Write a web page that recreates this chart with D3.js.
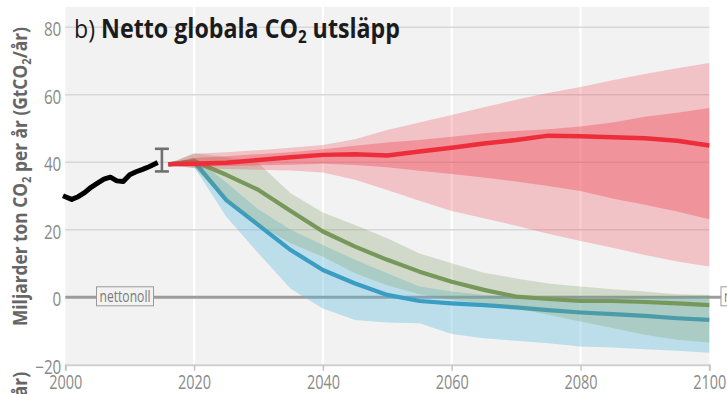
<!DOCTYPE html>
<html>
<head>
<meta charset="utf-8">
<script src="https://cdn.jsdelivr.net/npm/d3@7"></script>
<style>
  html, body { margin: 0; padding: 0; background: #ffffff; overflow: hidden; }
  svg { display: block; }
  text { font-family: "Open Sans", "DejaVu Sans", sans-serif; }
</style>
</head>
<body>
<svg id="chart" width="727" height="394"></svg>
<script>
// Historical net CO2 emissions (GtCO2/yr)
const histYears  = [2000, 2001, 2002, 2003, 2004, 2005, 2006, 2007, 2008, 2009, 2010, 2011, 2012, 2013, 2014];
const histValues = [29.8, 29.0, 29.8, 31.0, 32.6, 33.8, 35.0, 35.6, 34.5, 34.3, 36.3, 37.2, 37.9, 38.7, 39.6];

// Uncertainty of the latest historical estimate
const errorYear = 2015;
const errorLow  = 37.3;
const errorHigh = 44.0;

// Scenario pathways
const scenYears = [2016, 2020, 2025, 2030, 2035, 2040, 2045, 2050, 2055, 2060, 2065, 2070, 2075, 2080, 2085, 2090, 2095, 2100];

// High-emission pathway (red): median, inner range and outer range
const redMedian    = [39.4, 39.6, 39.9, 40.7, 41.5, 42.2, 42.4, 42.0, 43.2, 44.3, 45.6, 46.6, 47.9, 47.7, 47.4, 47.1, 46.4, 45.0];
const redInnerLow  = [39.3, 38.8, 38.9, 39.1, 39.3, 39.6, 39.2, 38.5, 37.5, 36.5, 35.5, 34.3, 33.0, 31.5, 29.3, 27.4, 25.4, 23.1];
const redInnerHigh = [39.5, 41.3, 41.8, 42.4, 43.0, 43.9, 44.9, 45.9, 46.6, 47.6, 48.6, 49.3, 49.8, 50.6, 51.8, 53.5, 54.7, 56.1];
const redOuterLow  = [39.2, 38.3, 38.0, 37.8, 37.6, 37.0, 34.8, 31.8, 28.6, 25.6, 23.4, 21.2, 18.8, 16.7, 14.7, 12.5, 10.6, 9.1];
const redOuterHigh = [39.6, 42.5, 43.0, 43.6, 44.3, 45.1, 46.8, 49.6, 51.8, 54.0, 56.3, 58.5, 60.5, 62.3, 64.3, 66.2, 67.9, 69.4];

// Pathway limiting warming to below 2 °C (green)
const greenMedian = [39.4, 40.3, 36.3, 31.8, 25.6, 19.5, 15.0, 11.1, 7.6, 4.6, 2.2, 0.2, -0.5, -1.1, -1.1, -1.4, -1.8, -2.3];
const greenLow    = [39.2, 38.3, 29.0, 21.5, 16.0, 12.0, 7.1, 3.6, 0.9, -0.8, -1.8, -3.3, -5.2, -7.2, -9.1, -11.1, -12.6, -13.4];
const greenHigh   = [39.6, 42.7, 41.5, 39.7, 30.8, 25.1, 21.4, 17.5, 13.0, 10.1, 7.3, 5.6, 4.1, 3.2, 2.4, 1.7, 0.9, 0.7];

// Pathway limiting warming to 1.5 °C (blue)
const blueMedian = [39.4, 40.2, 28.8, 21.4, 14.0, 8.1, 4.1, 0.7, -1.1, -1.8, -2.3, -3.0, -3.8, -4.5, -5.0, -5.5, -6.2, -6.7];
const blueLow    = [39.2, 38.7, 23.9, 13.0, 2.5, -3.3, -6.7, -7.5, -7.7, -10.9, -12.1, -12.9, -13.6, -14.6, -14.9, -15.4, -15.8, -16.4];
const blueHigh   = [39.6, 41.5, 34.0, 26.0, 20.0, 15.5, 11.1, 7.1, 3.2, 1.7, 0.7, 0.2, 0.0, 0.0, 0.0, 0.0, 0.0, 0.0];

// Axis ticks and labels
const xTicks = [2000, 2020, 2040, 2060, 2080, 2100];
const yTicks = [-20, 0, 20, 40, 60, 80];
const gridX = [2020, 2040, 2060, 2080];
const gridY = [20, 40, 60, 80];
const zeroLabel = "nettonoll";
const titlePrefix = "b) ";
const titleMain = "Netto globala CO";
const titleSub = "2";
const titleTail = " utsläpp";
const yLabelParts = ["Miljarder ton CO", "2", " per år (GtCO", "2", "/år)"];

const svg = d3.select("#chart");
const plotLeft = 65.3, plotRight = 709.3, plotTop = 27.3, plotBottom = 364.8;

const x = d3.scaleLinear().domain([2000, 2100]).range([plotLeft, plotRight]);
const y = d3.scaleLinear().domain([-20, 80]).range([plotBottom, plotTop]);

// squeeze text horizontally to a narrow face
function condense(sel, k) {
  sel.each(function () {
    const w = this.getComputedTextLength();
    d3.select(this).attr("textLength", w * k).attr("lengthAdjust", "spacingAndGlyphs");
  });
}
function fitWidth(sel, w) {
  sel.attr("textLength", w).attr("lengthAdjust", "spacingAndGlyphs");
}

// plot panel
svg.append("rect")
  .attr("x", plotLeft).attr("y", 7)
  .attr("width", plotRight - plotLeft).attr("height", plotBottom - 7)
  .attr("fill", "#f2f2f2");

// grid
svg.append("g").selectAll("line").data(gridX).join("line")
  .attr("x1", d => x(d)).attr("x2", d => x(d))
  .attr("y1", 7).attr("y2", plotBottom)
  .attr("stroke", "#ffffff").attr("stroke-width", 2.2);
svg.append("g").selectAll("line").data(gridY).join("line")
  .attr("x1", plotLeft).attr("x2", plotRight)
  .attr("y1", d => y(d)).attr("y2", d => y(d))
  .attr("stroke", "#d7d7d7").attr("stroke-width", 1.5);

// net-zero reference line
svg.append("line")
  .attr("x1", plotLeft).attr("x2", 722)
  .attr("y1", y(0)).attr("y2", y(0))
  .attr("stroke", "#9c9c9c").attr("stroke-width", 3);

// scenario ranges and medians
const rows = (lo, hi) => scenYears.map((yr, i) => ({ yr, lo: lo[i], hi: hi[i] }));
const area = d3.area().x(d => x(d.yr)).y0(d => y(d.lo)).y1(d => y(d.hi));
const line = d3.line().x(d => x(d[0])).y(d => y(d[1]));
const pts = vals => scenYears.map((yr, i) => [yr, vals[i]]);

const g = svg.append("g");
g.append("path").attr("d", area(rows(blueLow, blueHigh)))
  .attr("fill", "#5bbbdb").attr("fill-opacity", 0.36);
g.append("path").attr("d", line(pts(blueMedian)))
  .attr("fill", "none").attr("stroke", "#3a9dc3").attr("stroke-width", 4.2)
  .attr("stroke-linejoin", "round");
g.append("path").attr("d", area(rows(greenLow, greenHigh)))
  .attr("fill", "#7a9a5f").attr("fill-opacity", 0.27);
g.append("path").attr("d", line(pts(greenMedian)))
  .attr("fill", "none").attr("stroke", "#77985b").attr("stroke-width", 4.2)
  .attr("stroke-linejoin", "round");
g.append("path").attr("d", area(rows(redOuterLow, redOuterHigh)))
  .attr("fill", "#ee3342").attr("fill-opacity", 0.25);
g.append("path").attr("d", area(rows(redInnerLow, redInnerHigh)))
  .attr("fill", "#ee3342").attr("fill-opacity", 0.32);
g.append("path").attr("d", line(pts(redMedian)))
  .attr("fill", "none").attr("stroke", "#ee2d3a").attr("stroke-width", 4.5)
  .attr("stroke-linejoin", "round");

// historical emissions
svg.append("path")
  .attr("d", line(histYears.map((yr, i) => [yr, histValues[i]])))
  .attr("fill", "none").attr("stroke", "#000").attr("stroke-width", 5)
  .attr("stroke-linejoin", "round").attr("stroke-linecap", "square");

// error bar
const eb = svg.append("g").attr("stroke", "#707070").attr("stroke-width", 2.6);
eb.append("line").attr("x1", x(errorYear)).attr("x2", x(errorYear))
  .attr("y1", y(errorHigh)).attr("y2", y(errorLow));
[errorHigh, errorLow].forEach(v => {
  eb.append("line").attr("x1", x(errorYear) - 7).attr("x2", x(errorYear) + 7)
    .attr("y1", y(v)).attr("y2", y(v));
});

// net-zero labels
function zeroTag(bx, fill) {
  const t = svg.append("g");
  t.append("rect").attr("x", bx).attr("y", y(0) - 10.5).attr("width", 57).attr("height", 19)
    .attr("fill", fill).attr("stroke", "#9a9a9a").attr("stroke-width", 1);
  t.append("text").attr("x", bx + 3).attr("y", y(0) + 5)
    .attr("font-size", 16).attr("fill", "#7a7a7a").text(zeroLabel)
    .call(fitWidth, 51);
}
zeroTag(96.5, "#f2f2f2");
zeroTag(721, "#ffffff");

// x axis
const xAxis = svg.append("g").attr("transform", `translate(0,${plotBottom})`)
  .call(d3.axisBottom(x).tickValues(xTicks).tickFormat(d3.format("d")).tickSize(6).tickPadding(6));
xAxis.select(".domain").attr("stroke", "#cfcfcf").attr("stroke-width", 2);
xAxis.selectAll(".tick line").attr("stroke", "#c4c4c4").attr("stroke-width", 1.5);
xAxis.selectAll(".tick text").attr("font-size", 19.5).attr("fill", "#8a8a8a")
  .attr("font-family", "'Open Sans', sans-serif").attr("dy", "0.62em")
  .call(condense, 0.74);

// y axis labels
const yAxis = svg.append("g").attr("transform", `translate(${plotLeft},0)`)
  .call(d3.axisLeft(y).tickValues(yTicks).tickFormat(d3.format("d")).tickSize(0).tickPadding(4));
yAxis.select(".domain").remove();
yAxis.selectAll(".tick text").attr("font-size", 19.5).attr("fill", "#8a8a8a")
  .attr("font-family", "'Open Sans', sans-serif").attr("dy", "0.42em")
  .call(condense, 0.78);

// y-axis title (plus the tail of the next panel's title below)
function yTitle(cx, cy, anchor) {
  const t = svg.append("text")
    .attr("transform", `translate(${cx},${cy}) rotate(-90)`)
    .attr("text-anchor", anchor)
    .attr("font-size", 20).attr("font-weight", 700).attr("fill", "#666");
  yLabelParts.forEach((s, i) => {
    const sub = i % 2 === 1;
    t.append("tspan").attr("font-size", sub ? 13 : 20)
      .attr("dy", sub ? 4 : (i > 0 ? -4 : 0)).text(s);
  });
  return t;
}
yTitle(26.5, 176.5, "middle").call(fitWidth, 299);
yTitle(26.5, 372, "end").call(fitWidth, 299);

// chart title
const title = svg.append("text").attr("x", 74).attr("y", 37.5)
  .attr("font-size", 26).attr("fill", "#1b1b1b");
title.append("tspan").attr("font-weight", 400).text(titlePrefix);
title.append("tspan").attr("font-weight", 700).text(titleMain);
title.append("tspan").attr("font-weight", 700).attr("font-size", 17).attr("dy", 5).text(titleSub);
title.append("tspan").attr("font-weight", 700).attr("dy", -5).text(titleTail);
title.call(fitWidth, 326);
</script>
</body>
</html>
